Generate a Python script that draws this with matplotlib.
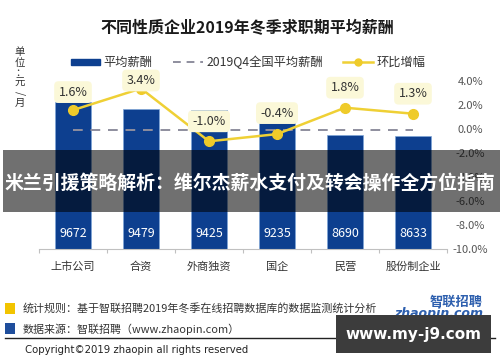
import matplotlib
matplotlib.use("Agg")
import matplotlib.pyplot as plt
from matplotlib.patches import Rectangle
from matplotlib.lines import Line2D
from matplotlib.ticker import FuncFormatter

plt.rcParams['font.family'] = ['Noto Sans CJK SC', 'DejaVu Sans']

# ---- data ----
categories = ["上市公司", "合资", "外商独资", "国企", "民营", "股份制企业"]
salary = [9672, 9479, 9425, 9235, 8690, 8633]
growth = [1.6, 3.4, -1.0, -0.4, 1.8, 1.3]
national_avg = 8829
right_ticks = [-10, -8, -6, -4, -2, 0, 2, 4]

title = "不同性质企业2019年冬季求职期平均薪酬"
legend_labels = ["平均薪酬", "2019Q4全国平均薪酬", "环比增幅"]
overlay_text = "米兰引援策略解析：维尔杰薪水支付及转会操作全方位指南"
note1 = "统计规则：基于智联招聘2019年冬季在线招聘数据库的数据监测统计分析"
note2 = "数据来源：智联招聘（www.zhaopin.com）"
copyright_text = "Copyright©2019 zhaopin all rights reserved"
watermark = "www.my-j9.com"

# ---- style ----
W, H = 500, 362
BAR = "#0d3f8f"
YEL = "#efd035"
label_offsets = [18, 8, 20, 21, 20, 20]

fig = plt.figure(figsize=(5, 3.62), dpi=100)
fig.patch.set_facecolor("white")

def fx(px):
    return px / W

def fy(py):
    return 1 - py / H

ax = fig.add_axes([fx(39), fy(249.3), fx(408), 168 / H])
x = list(range(len(categories)))
ax.bar(x, salary, width=0.52, color=BAR, edgecolor="#7fa6d8", linewidth=0.5, zorder=2)
ax.set_xlim(-0.5, len(categories) - 0.5)
ax.set_ylim(5199, 10312)
ax.plot([x[0], x[-1]], [national_avg, national_avg], ls=(0, (5, 4)), color="#8e8e9e", lw=1.4, zorder=3)
for i, v in enumerate(salary):
    ax.text(i, 5199 + (10312 - 5199) * 0.095, str(v), ha="center", va="center",
            color="white", fontsize=9, zorder=4)

for s in ["left", "right", "top"]:
    ax.spines[s].set_visible(False)
ax.spines["bottom"].set_color("#c0c0c0")
ax.set_yticks([])
ax.set_xticks([i - 0.5 for i in range(len(categories) + 1)], minor=False)
ax.set_xticklabels([])
ax.tick_params(axis="x", length=3, color="#c0c0c0")
ax.set_xticks(x, minor=True)
ax.set_xticklabels(categories, minor=True, fontsize=8, color="#333333")
ax.tick_params(axis="x", which="minor", length=0, pad=9)

ax2 = ax.twinx()
ax2.set_ylim(-10, 4)
ax2.plot(x, growth, color=YEL, lw=1.8, marker="o", markersize=7,
         markerfacecolor="#efcb2a", markeredgecolor="#efcb2a", zorder=5)
ax2.set_yticks(right_ticks)
ax2.yaxis.set_major_formatter(FuncFormatter(lambda v, p: f"{v:.1f}%"))
ax2.tick_params(axis="y", length=0, pad=17, labelsize=8, labelcolor="#555555")
for lab in ax2.get_yticklabels():
    lab.set_horizontalalignment("center")
for s in ax2.spines.values():
    s.set_visible(False)
for i, g in enumerate(growth):
    ax2.annotate(f"{g:.1f}%", (i, g), xytext=(0, label_offsets[i] * 0.72),
                 textcoords="offset points", ha="center", va="center",
                 fontsize=9, color="#333333", zorder=6, annotation_clip=False,
                 bbox=dict(boxstyle="round,pad=0.35", fc="#fbf8d8", ec="none"))

# title
fig.text(fx(247), fy(28), title, ha="center", va="center", fontsize=11.5,
         fontweight="bold", color="#1a1a1a")

# unit label (vertical)
for ch, py in zip(["单", "位", "：", "元"], [52, 63, 73, 83]):
    fig.text(fx(20), fy(py), ch, ha="center", va="center", fontsize=7.5, color="#333333")
fig.text(fx(20), fy(93), "/", ha="center", va="center", fontsize=7.5, color="#333333", rotation=-90)
fig.text(fx(20), fy(103), "月", ha="center", va="center", fontsize=7.5, color="#333333")

# legend
fig.add_artist(Rectangle((fx(71), fy(65)), fx(29), 6 / H, transform=fig.transFigure,
                         color=BAR, zorder=3))
fig.text(fx(103), fy(62), legend_labels[0], ha="left", va="center", fontsize=8.8, color="#333333")
fig.add_artist(Line2D([fx(173), fx(203)], [fy(62), fy(62)], transform=fig.transFigure,
                      ls=(0, (4, 3)), color="#8e8e9e", lw=1.4))
fig.text(fx(207), fy(62), legend_labels[1], ha="left", va="center", fontsize=8.8, color="#333333")
fig.add_artist(Line2D([fx(343), fx(373)], [fy(62), fy(62)], transform=fig.transFigure,
                      color=YEL, lw=1.8))
fig.add_artist(Line2D([fx(358)], [fy(62)], transform=fig.transFigure, marker="o",
                      markersize=5, color="#efcb2a", lw=0))
fig.text(fx(377), fy(62), legend_labels[2], ha="left", va="center", fontsize=8.8, color="#333333")

# overlay band
fig.add_artist(Rectangle((fx(3), fy(212)), fx(497), 62 / H, transform=fig.transFigure,
                         color="black", alpha=0.56, lw=0, zorder=20))
fig.text(fx(250), fy(183), overlay_text, ha="center", va="center", fontsize=13.6,
         fontweight="bold", color="white", zorder=21)

# footer
fig.add_artist(Rectangle((fx(5), fy(314)), fx(10), 11 / H, transform=fig.transFigure,
                         color="#f2c400", lw=0))
fig.add_artist(Rectangle((fx(5), fy(334)), fx(10), 11 / H, transform=fig.transFigure,
                         color="#1f4e9c", lw=0))
fig.text(fx(23), fy(308), note1, ha="left", va="center", fontsize=7.9, color="#333333")
fig.text(fx(23), fy(329), note2, ha="left", va="center", fontsize=7.9, color="#333333")
fig.add_artist(Line2D([fx(5), fx(495)], [fy(338), fy(338)], transform=fig.transFigure,
                      color="#222222", lw=1))
fig.text(fx(25), fy(350), copyright_text, ha="left", va="center", fontsize=7.3,
         color="#222222", family=["DejaVu Sans"])

# logo
fig.text(fx(483), fy(302), "智联招聘", ha="right", va="center", fontsize=9.5,
         fontweight="bold", color="#2d5fae", style="italic")
fig.text(fx(483), fy(314), "zhaopin.com", ha="right", va="center", fontsize=9,
         fontweight="bold", color="#2d5fae", style="italic", family=["DejaVu Sans"])

# watermark box
fig.add_artist(Rectangle((fx(336), fy(353)), fx(155), 38 / H, transform=fig.transFigure,
                         color="#3c3c3c", lw=0, zorder=20))
fig.text(fx(413.5), fy(334), watermark, ha="center", va="center", fontsize=11,
         fontweight="bold", color="white", zorder=21, family=["DejaVu Sans"])

fig.savefig("out.png", dpi=100)
